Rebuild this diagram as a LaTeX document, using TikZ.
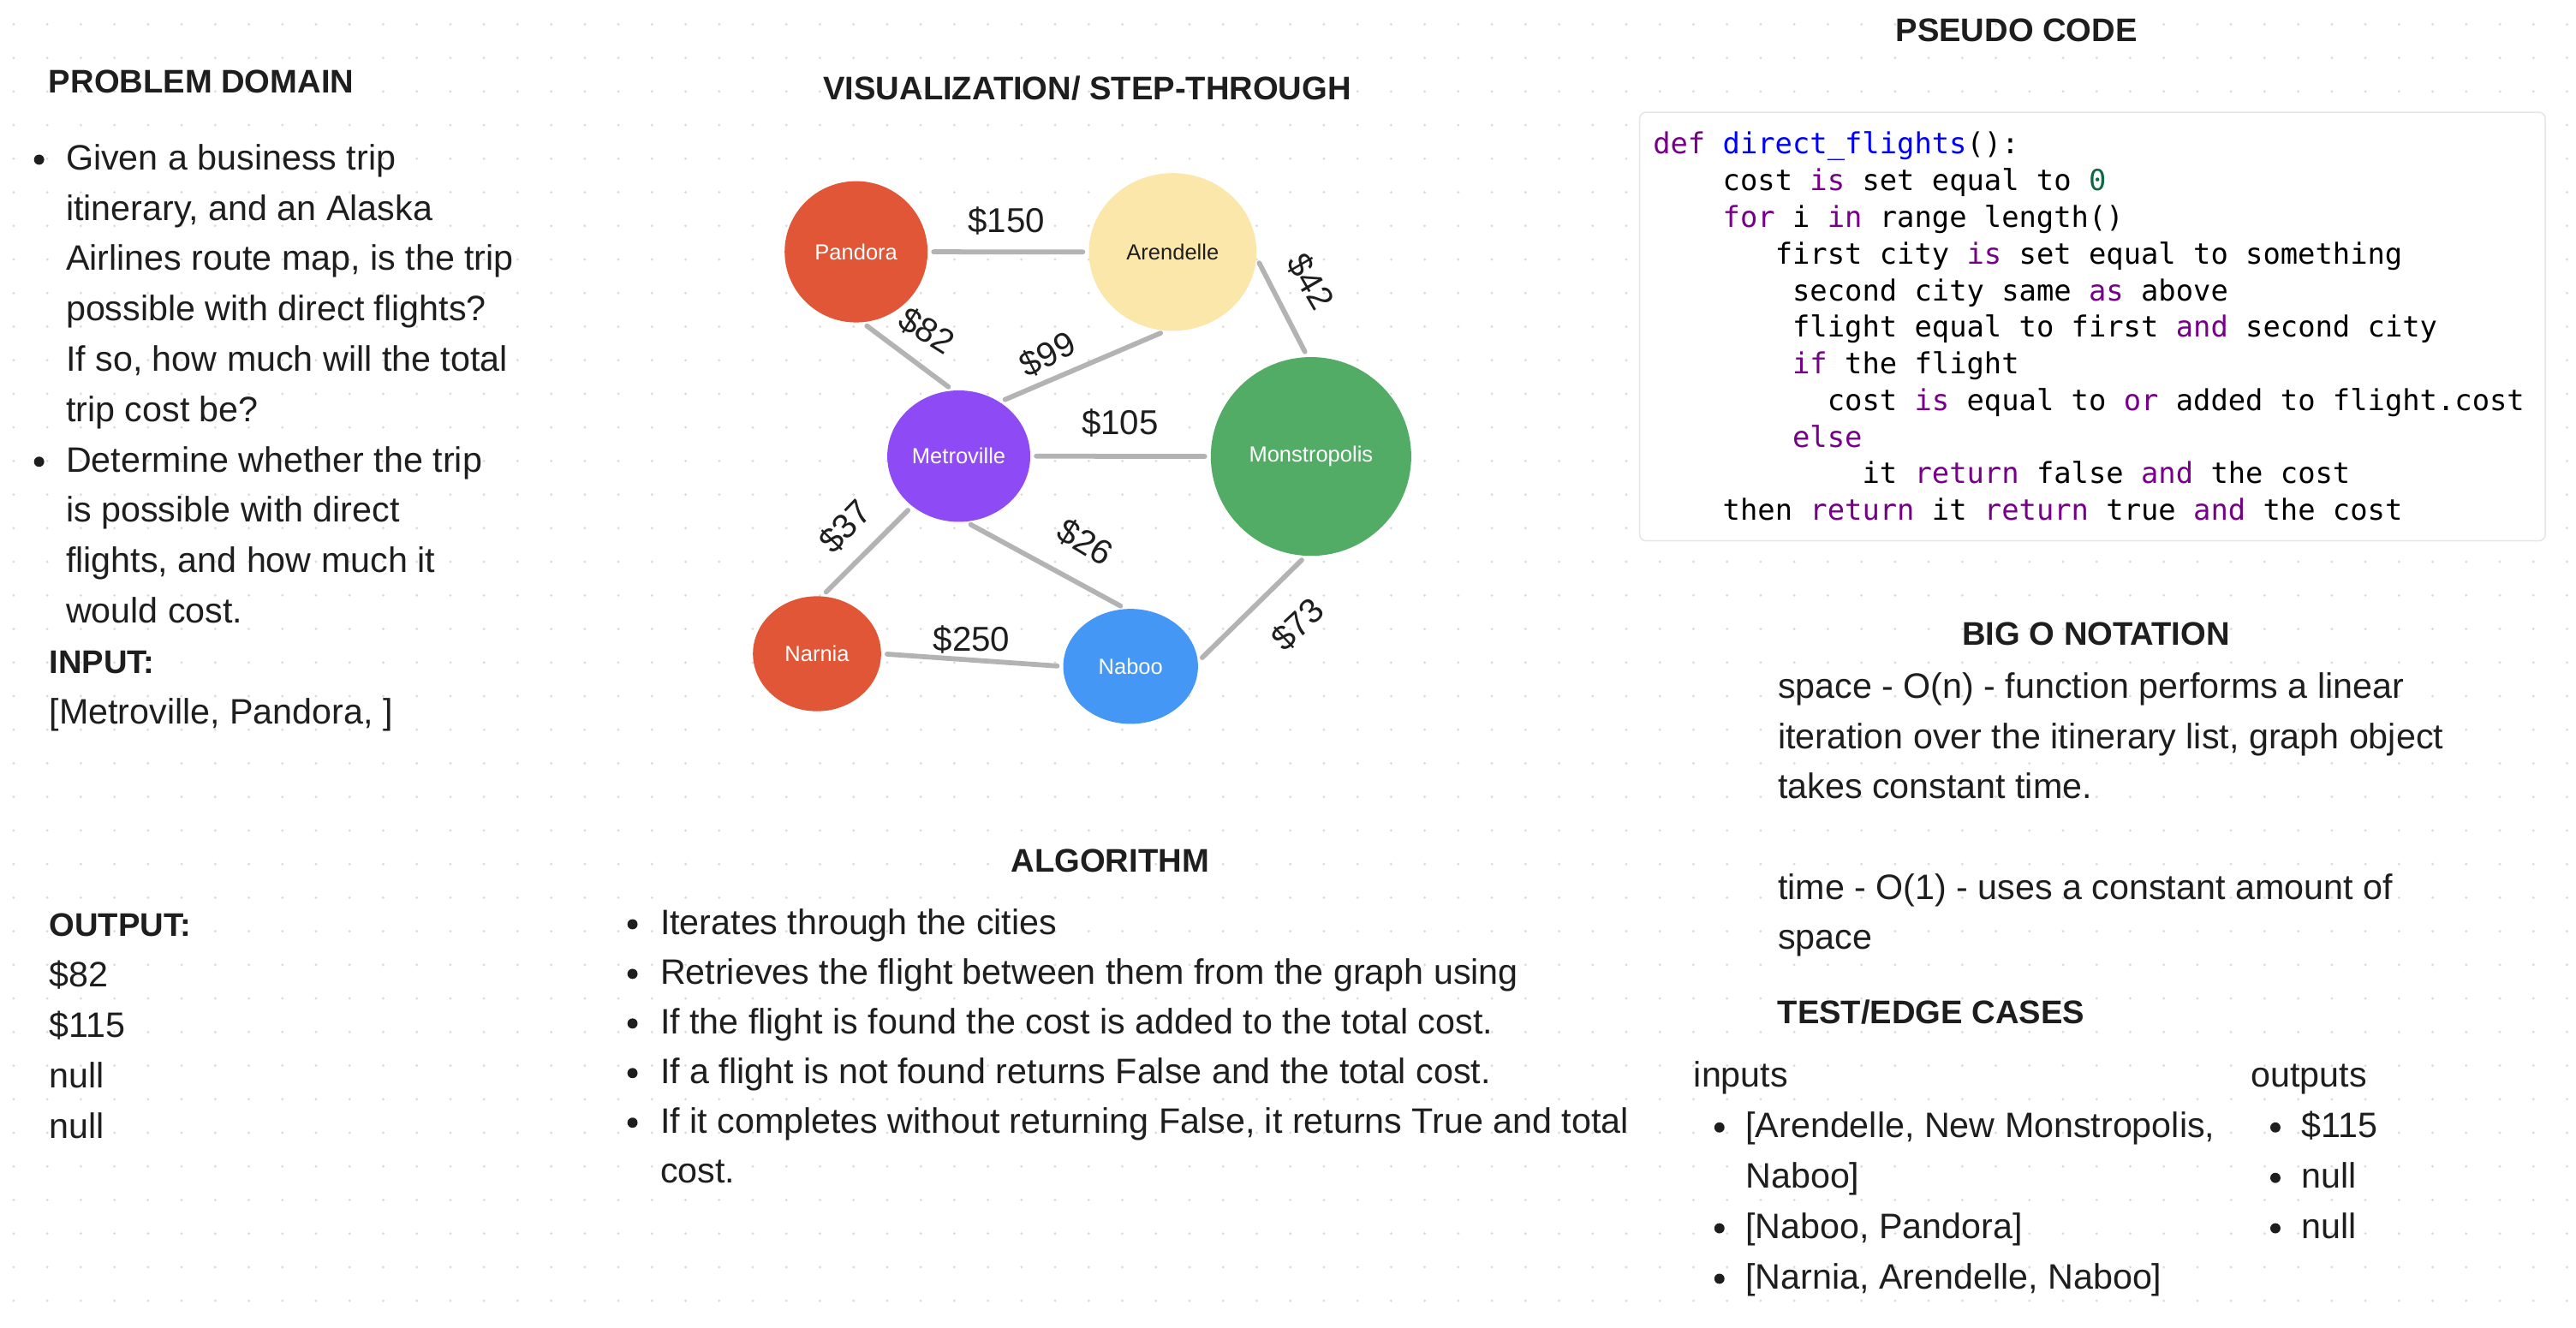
\documentclass[tikz,border=0pt]{standalone}
\usepackage{fontspec}
\setmainfont{Liberation Sans}
\newfontfamily\codefont{DejaVu Sans Mono}
\usetikzlibrary{shapes.geometric}
\definecolor{ink}{HTML}{1E1E1E}
\definecolor{dotc}{HTML}{DCDCDC}
\definecolor{edgegray}{HTML}{B3B3B3}
\definecolor{cred}{HTML}{E05637}
\definecolor{cyellow}{HTML}{FAE7A9}
\definecolor{cpurple}{HTML}{8D4AF5}
\definecolor{cgreen}{HTML}{52AC66}
\definecolor{cblue}{HTML}{4597F5}
\definecolor{kwcol}{HTML}{770088}
\definecolor{defcol}{HTML}{0000FF}
\definecolor{numcol}{HTML}{116644}
\definecolor{boxline}{HTML}{E6E6E6}
\newcommand{\kwc}[1]{\textcolor{kwcol}{#1}}
\newcommand{\defc}[1]{\textcolor{defcol}{#1}}
\newcommand{\numc}[1]{\textcolor{numcol}{#1}}
\tikzset{
  city/.style={ellipse, inner sep=0pt, font=\fontsize{13.3}{16}\selectfont, text=white},
  edgeline/.style={draw=edgegray, line width=3pt, line cap=round, shorten >=3.5pt, shorten <=3.5pt},
  price/.style={font=\fontsize{21}{25}\selectfont, text=ink, inner sep=0pt},
  head/.style={font=\bfseries\fontsize{19.9}{24}\selectfont, text=ink, inner sep=0pt, anchor=base},
  headl/.style={head, anchor=base west},
  body/.style={font=\fontsize{21.5}{30}\selectfont, text=ink, inner sep=0pt, anchor=base west},
  codeline/.style={font=\codefont\fontsize{17.62}{22}\selectfont, text=black, inner sep=0pt, anchor=base west},
  codebox/.style={fill=white, draw=boxline, line width=0.8pt, rounded corners=4pt}
}
\begin{document}
\begin{tikzpicture}[x=1pt,y=-1pt]
\fill[white] (0,0) rectangle (1568,808);
\useasboundingbox (0,0) rectangle (1568,808);
% dot grid
\fill[dotc] \foreach \i in {0,...,76} { \foreach \j in {0,...,38} { (8.3+\i*20.45, 14.8+\j*20.45) circle (0.85) } };

% ---------- PROBLEM DOMAIN ----------
\node[headl] (pdh) at (29.5,56.5) {PROBLEM DOMAIN};
\fill[ink] (23.8,97.2) circle (3.1);
\node[body] (pd0) at (40,103.4) {Given a business trip};
\node[body] (pd1) at (40,134.05) {itinerary, and an Alaska};
\node[body] (pd2) at (40,164.7) {Airlines route map, is the trip};
\node[body] (pd3) at (40,195.35) {possible with direct flights?};
\node[body] (pd4) at (40,226.0) {If so, how much will the total};
\node[body] (pd5) at (40,256.65) {trip cost be?};
\fill[ink] (23.8,281.1) circle (3.1);
\node[body] (pd6) at (40,287.3) {Determine whether the trip};
\node[body] (pd7) at (40,317.95) {is possible with direct};
\node[body] (pd8) at (40,348.6) {flights, and how much it};
\node[body] (pd9) at (40,379.25) {would cost.};
\node[headl] (inh) at (29.8,410) {INPUT:};
\node[body] (inv) at (29.8,440.6) {[Metroville, Pandora, ]};
\node[headl] (outh) at (29.8,569.9) {OUTPUT:};
\node[body] (out0) at (29.8,600.8) {\$82};
\node[body] (out1) at (29.8,631.6) {\$115};
\node[body] (out2) at (29.8,662.4) {null};
\node[body] (out3) at (29.8,693.2) {null};

% ---------- VISUALIZATION ----------
\node[head] (vish) at (661.8,60.5) {VISUALIZATION/ STEP-THROUGH};
\node[city, fill=cred, minimum width=87pt, minimum height=86pt] (pandora) at (521.1,153.3) {Pandora};
\node[city, fill=cyellow, text=ink, minimum width=102pt, minimum height=96pt] (arendelle) at (713.8,153.4) {Arendelle};
\node[city, fill=cpurple, minimum width=87pt, minimum height=80pt] (metroville) at (583.6,277.7) {Metroville};
\node[city, fill=cgreen, minimum width=122pt, minimum height=121pt] (monstro) at (798,277.9) {Monstropolis};
\node[city, fill=cred, minimum width=78pt, minimum height=70pt] (narnia) at (497.3,398) {Narnia};
\node[city, fill=cblue, minimum width=82pt, minimum height=70pt] (naboo) at (688.2,405.7) {Naboo};

\draw[edgeline] (pandora.0) -- (arendelle.180);
\draw[edgeline] (pandora.-85) -- (metroville.95);
\draw[edgeline] (arendelle.-95) -- (metroville.53);
\draw[edgeline] (arendelle.-4) -- (monstro.92);
\draw[edgeline] (metroville.0) -- (monstro.180);
\draw[edgeline] (metroville.-133) -- (narnia.85);
\draw[edgeline] (metroville.-84) -- (naboo.95);
\draw[edgeline] (narnia.0) -- (naboo.180);
\draw[edgeline] (naboo.4) -- (monstro.-93);

\node[price] (l150) at (612.6,134.7) {\$150};
\node[price, rotate=-32] (l82) at (564.1,201.4) {\$82};
\node[price, rotate=27] (l99) at (637.5,215.8) {\$99};
\node[price, rotate=-60] (l42) at (797.6,171.5) {\$42};
\node[price] (l105) at (681.8,257.4) {\$105};
\node[price, rotate=46] (l37) at (514.3,320.8) {\$37};
\node[price, rotate=-31] (l26) at (660.6,330.1) {\$26};
\node[price] (l250) at (591.4,389.2) {\$250};
\node[price, rotate=43] (l73) at (790,380.3) {\$73};

% ---------- ALGORITHM ----------
\node[head] (algh) at (675.7,530.7) {ALGORITHM};
\foreach \yy in {562.7,592.9,623.1,653.3,683.5} { \fill[ink] (385,\yy) circle (3.1); }
\node[body] (al0) at (401.7,568.9) {Iterates through the cities};
\node[body] (al1) at (401.7,599.1) {Retrieves the flight between them from the graph using};
\node[body] (al2) at (401.7,629.3) {If the flight is found the cost is added to the total cost.};
\node[body] (al3) at (401.7,659.5) {If a flight is not found returns False and the total cost.};
\node[body] (al4) at (401.7,689.7) {If it completes without returning False, it returns True and total};
\node[body] (al5) at (401.7,719.9) {cost.};

% ---------- PSEUDO CODE ----------
\node[head] (psh) at (1227.4,25.2) {PSEUDO CODE};
\draw[codebox] (998,68.3) rectangle (1549.3,329.3);
\node[codeline] (c0) at (1006,93.8) {\kwc{def} \defc{direct\_flights}():};
\node[codeline] (c1) at (1048.44,116.1) {cost \kwc{is} set equal to \numc{0}};
\node[codeline] (c2) at (1048.44,138.4) {\kwc{for} i \kwc{in} range length()};
\node[codeline] (c3) at (1080.27,160.7) {first city \kwc{is} set equal to something};
\node[codeline] (c4) at (1090.88,183.0) {second city same \kwc{as} above};
\node[codeline] (c5) at (1090.88,205.3) {flight equal to first \kwc{and} second city};
\node[codeline] (c6) at (1090.88,227.6) {\kwc{if} the flight};
\node[codeline] (c7) at (1112.1,249.9) {cost \kwc{is} equal to \kwc{or} added to flight.cost};
\node[codeline] (c8) at (1090.88,272.2) {\kwc{else}};
\node[codeline] (c9) at (1133.32,294.5) {it \kwc{return} false \kwc{and} the cost};
\node[codeline] (c10) at (1048.44,316.8) {then \kwc{return} it \kwc{return} true \kwc{and} the cost};

% ---------- BIG O ----------
\node[head] (bigh) at (1275.8,392.8) {BIG O NOTATION};
\node[body] (bo0) at (1082,425) {space - O(n) - function performs a linear};
\node[body] (bo1) at (1082,455.6) {iteration over the itinerary list, graph object};
\node[body] (bo2) at (1082,486.2) {takes constant time.};
\node[body] (bo3) at (1082,547.4) {time - O(1) - uses a constant amount of};
\node[body] (bo4) at (1082,578.0) {space};

% ---------- TEST/EDGE CASES ----------
\node[headl] (teh) at (1081.8,623) {TEST/EDGE CASES};
\node[body] (inl) at (1030.8,662) {inputs};
\node[body] (outl) at (1370,662) {outputs};
\foreach \yy in {686.4,747.8,778.5} { \fill[ink] (1046.6,\yy) circle (3.1); }
\node[body] (ti0) at (1062.4,692.6) {[Arendelle, New Monstropolis,};
\node[body] (ti1) at (1062.4,723.3) {Naboo]};
\node[body] (ti2) at (1062.4,754) {[Naboo, Pandora]};
\node[body] (ti3) at (1062.4,784.7) {[Narnia, Arendelle, Naboo]};
\foreach \yy in {686.4,717.1,747.8} { \fill[ink] (1385,\yy) circle (3.1); }
\node[body] (to0) at (1400.8,692.6) {\$115};
\node[body] (to1) at (1400.8,723.3) {null};
\node[body] (to2) at (1400.8,754) {null};
\end{tikzpicture}
\end{document}
